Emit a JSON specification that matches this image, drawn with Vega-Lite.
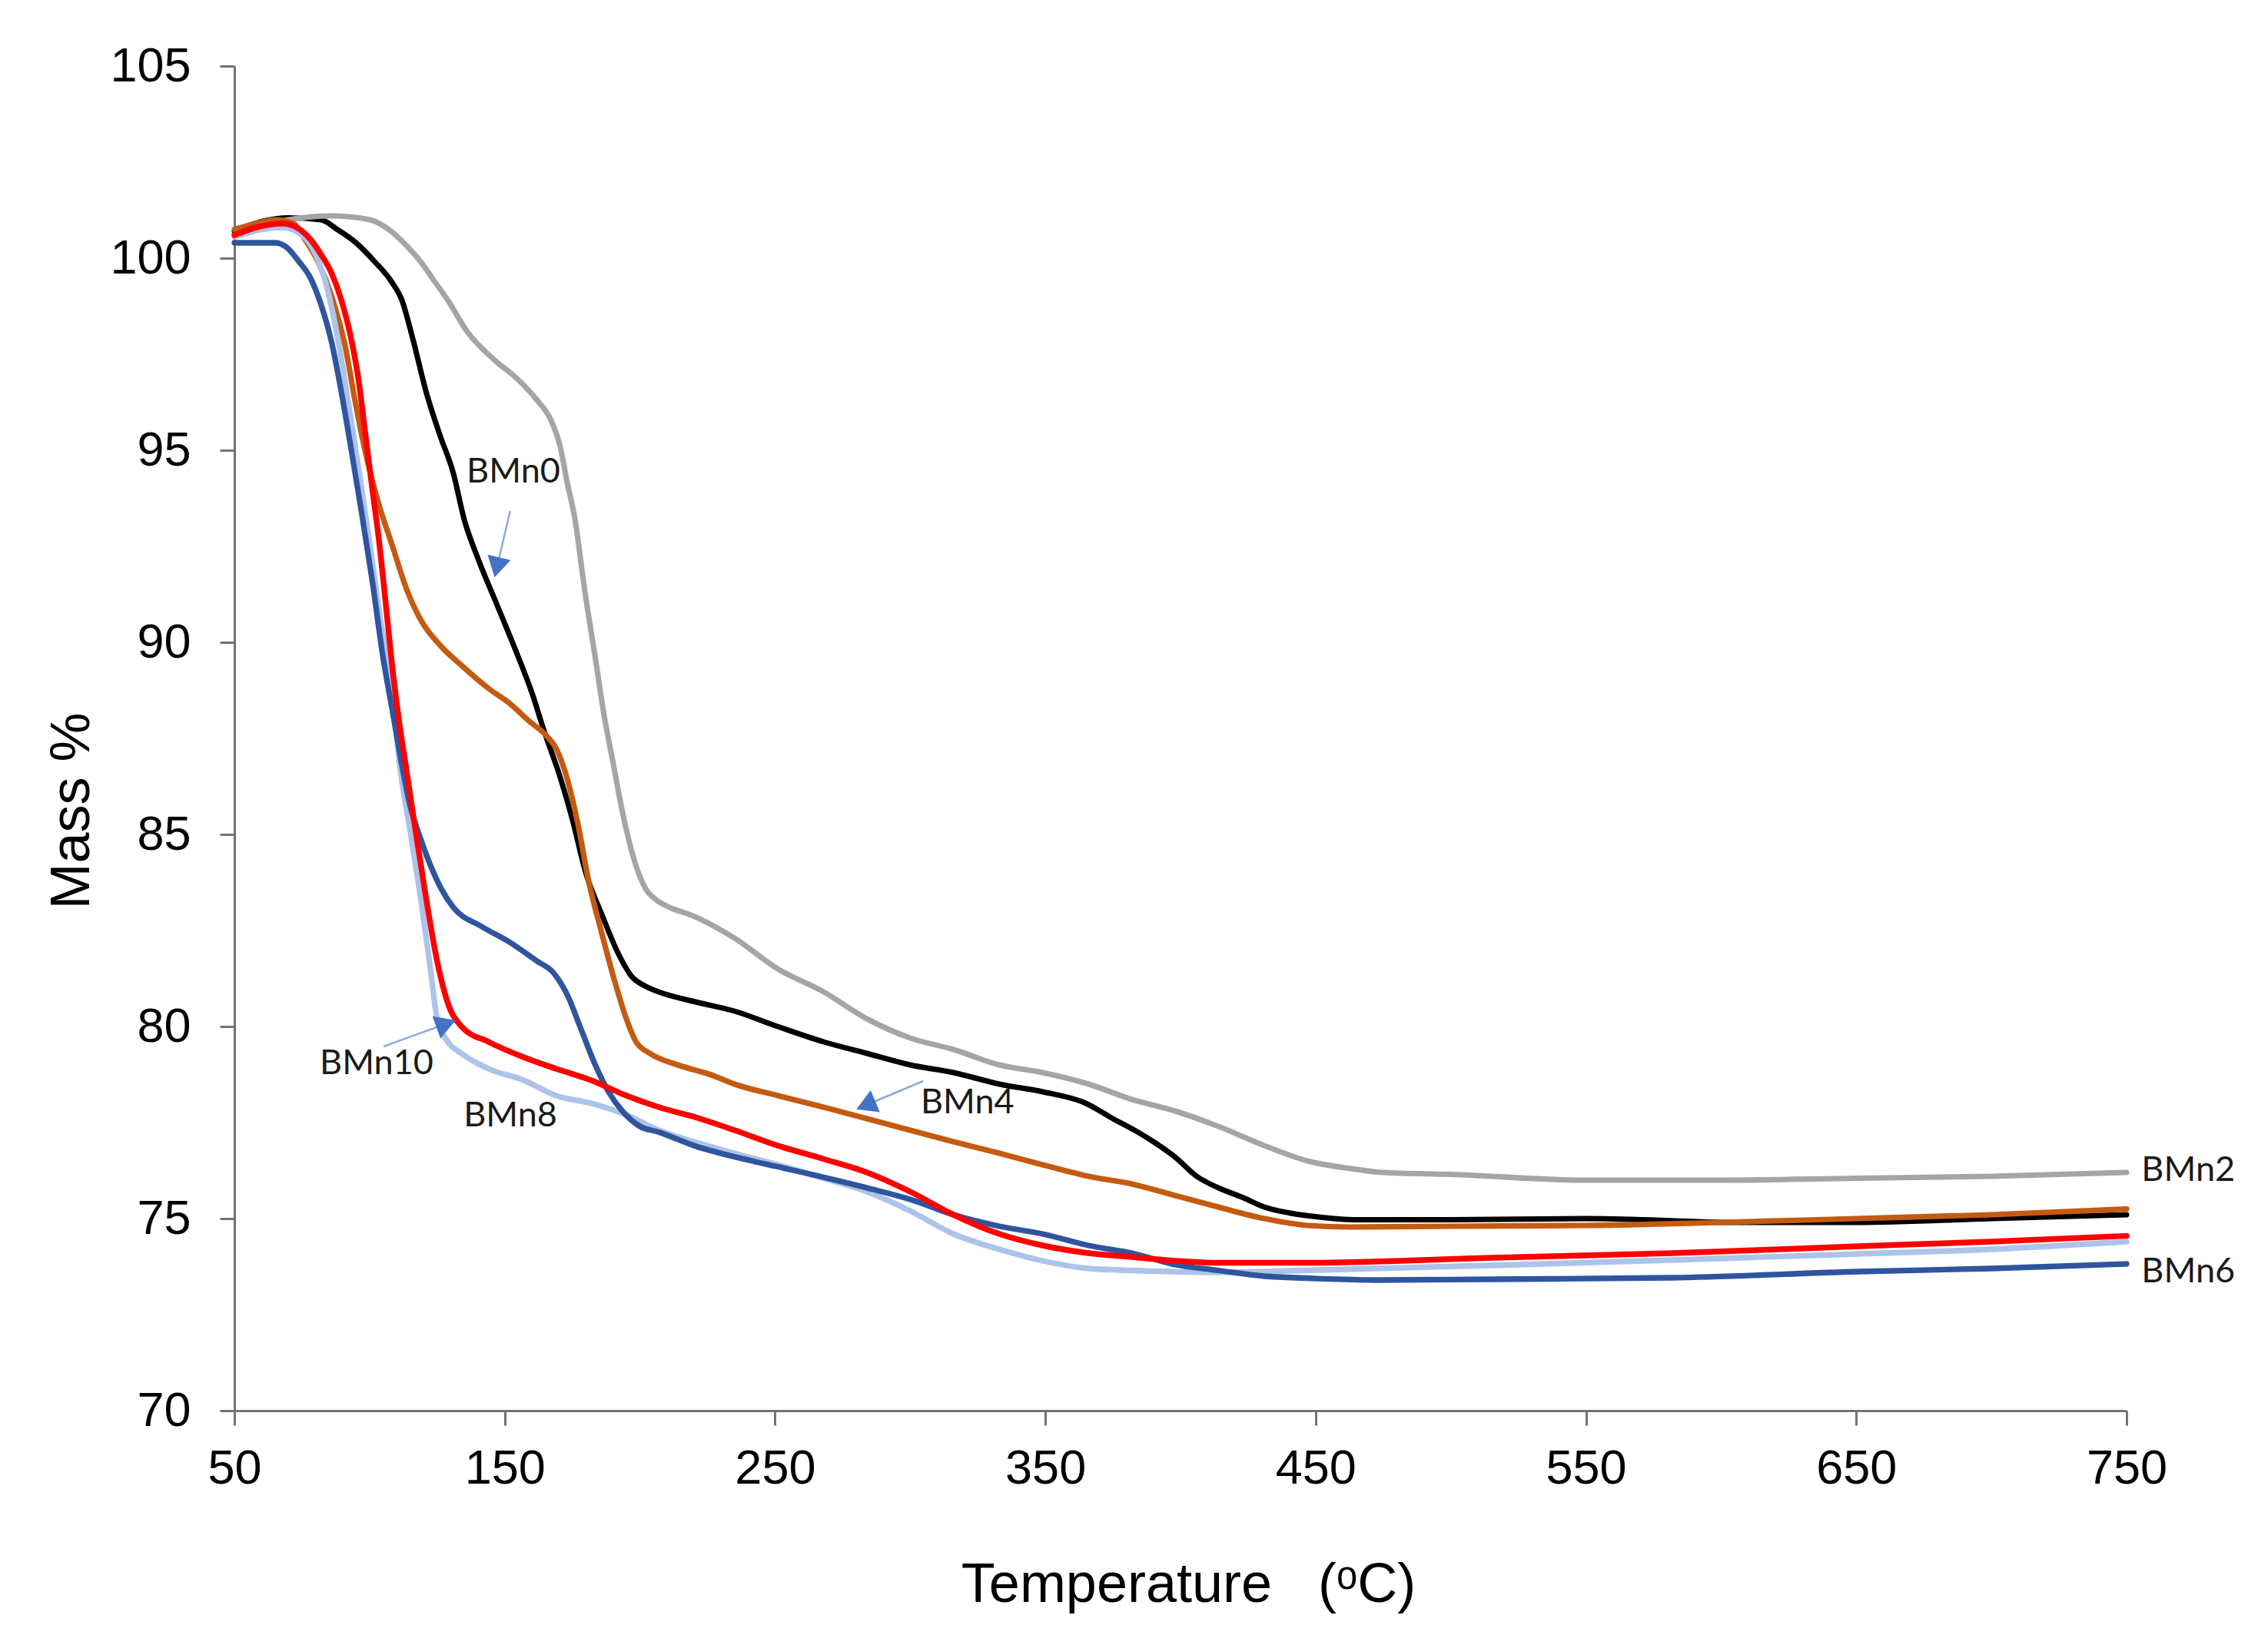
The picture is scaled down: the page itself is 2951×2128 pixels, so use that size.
{
  "$schema": "https://vega.github.io/schema/vega-lite/v6.json",
  "description": "TGA mass loss curves BMn0-BMn10",
  "autosize": {"type": "none"},
  "width": 2462,
  "height": 1750,
  "padding": {"left": 305, "top": 86, "right": 184, "bottom": 292},
  "background": "white",
  "config": {
    "view": {"stroke": null},
    "font": "Liberation Sans",
    "axis": {
      "grid": false,
      "domainColor": "#737373",
      "domainWidth": 3,
      "tickColor": "#737373",
      "tickWidth": 3,
      "tickSize": 19,
      "labelFont": "Liberation Sans",
      "labelFontSize": 63,
      "labelColor": "#000000",
      "titleFont": "Liberation Sans",
      "titleFontSize": 72,
      "titleFontWeight": "normal",
      "titleColor": "#000000"
    }
  },
  "datasets": {
    "curves": [
      {"s": "BMn0", "t": 50, "m": 100.7}, {"s": "BMn0", "t": 60, "m": 100.95}, {"s": "BMn0", "t": 70, "m": 101.05},
      {"s": "BMn0", "t": 82, "m": 101.0}, {"s": "BMn0", "t": 88, "m": 100.75}, {"s": "BMn0", "t": 95, "m": 100.4},
      {"s": "BMn0", "t": 102, "m": 99.9}, {"s": "BMn0", "t": 108, "m": 99.4}, {"s": "BMn0", "t": 112, "m": 98.9},
      {"s": "BMn0", "t": 116, "m": 97.9}, {"s": "BMn0", "t": 121, "m": 96.5}, {"s": "BMn0", "t": 126, "m": 95.4},
      {"s": "BMn0", "t": 131, "m": 94.4}, {"s": "BMn0", "t": 135, "m": 93.2}, {"s": "BMn0", "t": 140, "m": 92.2},
      {"s": "BMn0", "t": 147, "m": 91.0}, {"s": "BMn0", "t": 154, "m": 89.8}, {"s": "BMn0", "t": 160, "m": 88.7},
      {"s": "BMn0", "t": 165, "m": 87.6}, {"s": "BMn0", "t": 170, "m": 86.6}, {"s": "BMn0", "t": 175, "m": 85.4},
      {"s": "BMn0", "t": 180, "m": 84.0}, {"s": "BMn0", "t": 186, "m": 82.9}, {"s": "BMn0", "t": 192, "m": 81.9},
      {"s": "BMn0", "t": 197, "m": 81.3}, {"s": "BMn0", "t": 202, "m": 81.05}, {"s": "BMn0", "t": 207, "m": 80.9},
      {"s": "BMn0", "t": 220, "m": 80.65}, {"s": "BMn0", "t": 235, "m": 80.4}, {"s": "BMn0", "t": 251, "m": 80.0},
      {"s": "BMn0", "t": 268, "m": 79.6}, {"s": "BMn0", "t": 284, "m": 79.3}, {"s": "BMn0", "t": 300, "m": 79.0},
      {"s": "BMn0", "t": 316, "m": 78.8}, {"s": "BMn0", "t": 333, "m": 78.5}, {"s": "BMn0", "t": 349, "m": 78.3},
      {"s": "BMn0", "t": 365, "m": 78.0}, {"s": "BMn0", "t": 375, "m": 77.6}, {"s": "BMn0", "t": 383, "m": 77.3},
      {"s": "BMn0", "t": 390, "m": 77.0}, {"s": "BMn0", "t": 398, "m": 76.6}, {"s": "BMn0", "t": 406, "m": 76.1},
      {"s": "BMn0", "t": 414, "m": 75.8}, {"s": "BMn0", "t": 423, "m": 75.55}, {"s": "BMn0", "t": 431, "m": 75.3},
      {"s": "BMn0", "t": 440, "m": 75.15}, {"s": "BMn0", "t": 450, "m": 75.05}, {"s": "BMn0", "t": 465, "m": 74.97},
      {"s": "BMn0", "t": 500, "m": 74.97}, {"s": "BMn0", "t": 550, "m": 75.0}, {"s": "BMn0", "t": 580, "m": 74.95},
      {"s": "BMn0", "t": 600, "m": 74.9}, {"s": "BMn0", "t": 650, "m": 74.9}, {"s": "BMn0", "t": 700, "m": 75.0},
      {"s": "BMn0", "t": 750, "m": 75.1},

      {"s": "BMn2", "t": 50, "m": 100.6}, {"s": "BMn2", "t": 60, "m": 100.85}, {"s": "BMn2", "t": 70, "m": 101.0},
      {"s": "BMn2", "t": 86, "m": 101.1}, {"s": "BMn2", "t": 100, "m": 101.0}, {"s": "BMn2", "t": 108, "m": 100.7},
      {"s": "BMn2", "t": 114, "m": 100.3}, {"s": "BMn2", "t": 119, "m": 99.9}, {"s": "BMn2", "t": 124, "m": 99.4},
      {"s": "BMn2", "t": 129, "m": 98.9}, {"s": "BMn2", "t": 136, "m": 98.1}, {"s": "BMn2", "t": 147, "m": 97.3},
      {"s": "BMn2", "t": 154, "m": 96.9}, {"s": "BMn2", "t": 162, "m": 96.3}, {"s": "BMn2", "t": 167, "m": 95.8},
      {"s": "BMn2", "t": 170.5, "m": 95.1}, {"s": "BMn2", "t": 173, "m": 94.2}, {"s": "BMn2", "t": 176, "m": 93.2},
      {"s": "BMn2", "t": 179.5, "m": 91.4}, {"s": "BMn2", "t": 183.5, "m": 89.6}, {"s": "BMn2", "t": 187, "m": 88.0},
      {"s": "BMn2", "t": 190, "m": 86.9}, {"s": "BMn2", "t": 193.5, "m": 85.6}, {"s": "BMn2", "t": 198.5, "m": 84.2},
      {"s": "BMn2", "t": 202, "m": 83.6}, {"s": "BMn2", "t": 206, "m": 83.3}, {"s": "BMn2", "t": 211, "m": 83.1},
      {"s": "BMn2", "t": 219, "m": 82.9}, {"s": "BMn2", "t": 235, "m": 82.3}, {"s": "BMn2", "t": 251, "m": 81.5},
      {"s": "BMn2", "t": 268, "m": 80.9}, {"s": "BMn2", "t": 284, "m": 80.2}, {"s": "BMn2", "t": 300, "m": 79.7},
      {"s": "BMn2", "t": 316, "m": 79.4}, {"s": "BMn2", "t": 333, "m": 79.0}, {"s": "BMn2", "t": 349, "m": 78.8},
      {"s": "BMn2", "t": 366, "m": 78.5}, {"s": "BMn2", "t": 382, "m": 78.1}, {"s": "BMn2", "t": 398, "m": 77.8},
      {"s": "BMn2", "t": 414, "m": 77.4}, {"s": "BMn2", "t": 431, "m": 76.9}, {"s": "BMn2", "t": 447, "m": 76.5},
      {"s": "BMn2", "t": 463, "m": 76.3}, {"s": "BMn2", "t": 475, "m": 76.2}, {"s": "BMn2", "t": 500, "m": 76.15},
      {"s": "BMn2", "t": 550, "m": 76.0}, {"s": "BMn2", "t": 600, "m": 76.0}, {"s": "BMn2", "t": 650, "m": 76.05},
      {"s": "BMn2", "t": 700, "m": 76.1}, {"s": "BMn2", "t": 750, "m": 76.2},

      {"s": "BMn4", "t": 50, "m": 100.75}, {"s": "BMn4", "t": 58, "m": 100.9}, {"s": "BMn4", "t": 65, "m": 101.0},
      {"s": "BMn4", "t": 72, "m": 100.9}, {"s": "BMn4", "t": 76, "m": 100.5}, {"s": "BMn4", "t": 81, "m": 99.9},
      {"s": "BMn4", "t": 86, "m": 99.0}, {"s": "BMn4", "t": 91, "m": 97.7}, {"s": "BMn4", "t": 94.6, "m": 96.3},
      {"s": "BMn4", "t": 98.3, "m": 95.0}, {"s": "BMn4", "t": 103.4, "m": 93.6}, {"s": "BMn4", "t": 108.5, "m": 92.5},
      {"s": "BMn4", "t": 113.6, "m": 91.4}, {"s": "BMn4", "t": 118.8, "m": 90.6}, {"s": "BMn4", "t": 126.4, "m": 89.9},
      {"s": "BMn4", "t": 134, "m": 89.4}, {"s": "BMn4", "t": 144, "m": 88.8}, {"s": "BMn4", "t": 152, "m": 88.4},
      {"s": "BMn4", "t": 159, "m": 87.95}, {"s": "BMn4", "t": 165, "m": 87.6}, {"s": "BMn4", "t": 169.3, "m": 87.2},
      {"s": "BMn4", "t": 173.3, "m": 86.4}, {"s": "BMn4", "t": 177, "m": 85.3}, {"s": "BMn4", "t": 181, "m": 83.8},
      {"s": "BMn4", "t": 186, "m": 82.4}, {"s": "BMn4", "t": 191, "m": 81.1}, {"s": "BMn4", "t": 195, "m": 80.2},
      {"s": "BMn4", "t": 198.6, "m": 79.6}, {"s": "BMn4", "t": 203.7, "m": 79.3}, {"s": "BMn4", "t": 214, "m": 79.0},
      {"s": "BMn4", "t": 226, "m": 78.75}, {"s": "BMn4", "t": 235, "m": 78.5}, {"s": "BMn4", "t": 251, "m": 78.2},
      {"s": "BMn4", "t": 268, "m": 77.9}, {"s": "BMn4", "t": 284, "m": 77.6}, {"s": "BMn4", "t": 300, "m": 77.3},
      {"s": "BMn4", "t": 316, "m": 77.0}, {"s": "BMn4", "t": 333, "m": 76.7}, {"s": "BMn4", "t": 349, "m": 76.4},
      {"s": "BMn4", "t": 366, "m": 76.1}, {"s": "BMn4", "t": 382, "m": 75.9}, {"s": "BMn4", "t": 398, "m": 75.6},
      {"s": "BMn4", "t": 414, "m": 75.3}, {"s": "BMn4", "t": 431, "m": 75.0}, {"s": "BMn4", "t": 447, "m": 74.82},
      {"s": "BMn4", "t": 463, "m": 74.78}, {"s": "BMn4", "t": 500, "m": 74.8}, {"s": "BMn4", "t": 550, "m": 74.82},
      {"s": "BMn4", "t": 600, "m": 74.9}, {"s": "BMn4", "t": 650, "m": 75.0}, {"s": "BMn4", "t": 700, "m": 75.1},
      {"s": "BMn4", "t": 750, "m": 75.25},

      {"s": "BMn8", "t": 50, "m": 100.55}, {"s": "BMn8", "t": 60, "m": 100.75}, {"s": "BMn8", "t": 68, "m": 100.8},
      {"s": "BMn8", "t": 75, "m": 100.6}, {"s": "BMn8", "t": 80, "m": 100.1}, {"s": "BMn8", "t": 84, "m": 99.3},
      {"s": "BMn8", "t": 88, "m": 98.0}, {"s": "BMn8", "t": 92, "m": 96.3}, {"s": "BMn8", "t": 96, "m": 94.5},
      {"s": "BMn8", "t": 100, "m": 92.6}, {"s": "BMn8", "t": 104, "m": 90.6}, {"s": "BMn8", "t": 108.5, "m": 88.7},
      {"s": "BMn8", "t": 111, "m": 86.9}, {"s": "BMn8", "t": 115, "m": 85.1}, {"s": "BMn8", "t": 119, "m": 83.3},
      {"s": "BMn8", "t": 122.5, "m": 81.5}, {"s": "BMn8", "t": 125, "m": 80.2}, {"s": "BMn8", "t": 129, "m": 79.6},
      {"s": "BMn8", "t": 134, "m": 79.3}, {"s": "BMn8", "t": 144, "m": 78.9}, {"s": "BMn8", "t": 157, "m": 78.6},
      {"s": "BMn8", "t": 169, "m": 78.2}, {"s": "BMn8", "t": 182, "m": 78.0}, {"s": "BMn8", "t": 195, "m": 77.7},
      {"s": "BMn8", "t": 207, "m": 77.3}, {"s": "BMn8", "t": 220, "m": 77.0}, {"s": "BMn8", "t": 235, "m": 76.7},
      {"s": "BMn8", "t": 251, "m": 76.4}, {"s": "BMn8", "t": 268, "m": 76.05}, {"s": "BMn8", "t": 284, "m": 75.7},
      {"s": "BMn8", "t": 300, "m": 75.2}, {"s": "BMn8", "t": 316, "m": 74.6}, {"s": "BMn8", "t": 333, "m": 74.2},
      {"s": "BMn8", "t": 349, "m": 73.9}, {"s": "BMn8", "t": 366, "m": 73.7}, {"s": "BMn8", "t": 382, "m": 73.65},
      {"s": "BMn8", "t": 414, "m": 73.6}, {"s": "BMn8", "t": 450, "m": 73.66}, {"s": "BMn8", "t": 515, "m": 73.78},
      {"s": "BMn8", "t": 582, "m": 73.92}, {"s": "BMn8", "t": 651, "m": 74.08}, {"s": "BMn8", "t": 700, "m": 74.2},
      {"s": "BMn8", "t": 750, "m": 74.4},

      {"s": "BMn6", "t": 50, "m": 100.4}, {"s": "BMn6", "t": 65, "m": 100.4}, {"s": "BMn6", "t": 69, "m": 100.3},
      {"s": "BMn6", "t": 74, "m": 99.9}, {"s": "BMn6", "t": 78, "m": 99.5}, {"s": "BMn6", "t": 82, "m": 98.8},
      {"s": "BMn6", "t": 86, "m": 97.8}, {"s": "BMn6", "t": 89.6, "m": 96.5}, {"s": "BMn6", "t": 93.5, "m": 94.9},
      {"s": "BMn6", "t": 97, "m": 93.4}, {"s": "BMn6", "t": 101, "m": 91.6}, {"s": "BMn6", "t": 105, "m": 89.6},
      {"s": "BMn6", "t": 108.5, "m": 88.2}, {"s": "BMn6", "t": 111.7, "m": 86.9}, {"s": "BMn6", "t": 114.8, "m": 85.8},
      {"s": "BMn6", "t": 118.8, "m": 84.9}, {"s": "BMn6", "t": 122.5, "m": 84.2}, {"s": "BMn6", "t": 126.4, "m": 83.6},
      {"s": "BMn6", "t": 131, "m": 83.1}, {"s": "BMn6", "t": 141.5, "m": 82.6}, {"s": "BMn6", "t": 151.7, "m": 82.2},
      {"s": "BMn6", "t": 162, "m": 81.7}, {"s": "BMn6", "t": 168, "m": 81.4}, {"s": "BMn6", "t": 173.3, "m": 80.8},
      {"s": "BMn6", "t": 178.4, "m": 79.9}, {"s": "BMn6", "t": 183.5, "m": 79.0}, {"s": "BMn6", "t": 188.4, "m": 78.3},
      {"s": "BMn6", "t": 193.5, "m": 77.8}, {"s": "BMn6", "t": 200, "m": 77.4}, {"s": "BMn6", "t": 207, "m": 77.25},
      {"s": "BMn6", "t": 220, "m": 76.9}, {"s": "BMn6", "t": 241.5, "m": 76.5}, {"s": "BMn6", "t": 251, "m": 76.35},
      {"s": "BMn6", "t": 284, "m": 75.8}, {"s": "BMn6", "t": 300, "m": 75.5}, {"s": "BMn6", "t": 316, "m": 75.1},
      {"s": "BMn6", "t": 333, "m": 74.8}, {"s": "BMn6", "t": 349, "m": 74.6}, {"s": "BMn6", "t": 366, "m": 74.3},
      {"s": "BMn6", "t": 382, "m": 74.1}, {"s": "BMn6", "t": 398, "m": 73.8}, {"s": "BMn6", "t": 414, "m": 73.65},
      {"s": "BMn6", "t": 431, "m": 73.5}, {"s": "BMn6", "t": 447, "m": 73.45}, {"s": "BMn6", "t": 474, "m": 73.4},
      {"s": "BMn6", "t": 515, "m": 73.42}, {"s": "BMn6", "t": 582, "m": 73.46}, {"s": "BMn6", "t": 651, "m": 73.62},
      {"s": "BMn6", "t": 700, "m": 73.7}, {"s": "BMn6", "t": 750, "m": 73.82},

      {"s": "BMn10", "t": 50, "m": 100.6}, {"s": "BMn10", "t": 58, "m": 100.8}, {"s": "BMn10", "t": 68, "m": 100.9},
      {"s": "BMn10", "t": 73, "m": 100.8}, {"s": "BMn10", "t": 78, "m": 100.5}, {"s": "BMn10", "t": 82, "m": 100.1},
      {"s": "BMn10", "t": 86, "m": 99.6}, {"s": "BMn10", "t": 89.6, "m": 98.9}, {"s": "BMn10", "t": 93.5, "m": 97.8},
      {"s": "BMn10", "t": 96, "m": 96.8}, {"s": "BMn10", "t": 98.3, "m": 95.5}, {"s": "BMn10", "t": 101, "m": 94.0},
      {"s": "BMn10", "t": 103.4, "m": 92.7}, {"s": "BMn10", "t": 106, "m": 91.0}, {"s": "BMn10", "t": 108.5, "m": 89.3},
      {"s": "BMn10", "t": 111, "m": 87.9}, {"s": "BMn10", "t": 113.6, "m": 86.7}, {"s": "BMn10", "t": 117, "m": 85.1},
      {"s": "BMn10", "t": 121, "m": 83.3}, {"s": "BMn10", "t": 125, "m": 81.7}, {"s": "BMn10", "t": 129, "m": 80.6},
      {"s": "BMn10", "t": 134, "m": 80.0}, {"s": "BMn10", "t": 144, "m": 79.6}, {"s": "BMn10", "t": 157, "m": 79.2},
      {"s": "BMn10", "t": 169, "m": 78.9}, {"s": "BMn10", "t": 182, "m": 78.6}, {"s": "BMn10", "t": 195, "m": 78.2},
      {"s": "BMn10", "t": 207, "m": 77.9}, {"s": "BMn10", "t": 220, "m": 77.65}, {"s": "BMn10", "t": 235, "m": 77.3},
      {"s": "BMn10", "t": 251, "m": 76.9}, {"s": "BMn10", "t": 268, "m": 76.55}, {"s": "BMn10", "t": 284, "m": 76.2},
      {"s": "BMn10", "t": 300, "m": 75.7}, {"s": "BMn10", "t": 316, "m": 75.1}, {"s": "BMn10", "t": 333, "m": 74.6},
      {"s": "BMn10", "t": 349, "m": 74.3}, {"s": "BMn10", "t": 366, "m": 74.1}, {"s": "BMn10", "t": 382, "m": 74.0},
      {"s": "BMn10", "t": 398, "m": 73.9}, {"s": "BMn10", "t": 414, "m": 73.85}, {"s": "BMn10", "t": 447, "m": 73.85},
      {"s": "BMn10", "t": 515, "m": 73.98}, {"s": "BMn10", "t": 582, "m": 74.1}, {"s": "BMn10", "t": 651, "m": 74.28},
      {"s": "BMn10", "t": 700, "m": 74.4}, {"s": "BMn10", "t": 750, "m": 74.55}
    ],
    "labels": [
      {"label": "BMn0", "t": 153.2, "m": 94.44, "pos": "inside"},
      {"label": "BMn10", "t": 102.6, "m": 79.04, "pos": "inside"},
      {"label": "BMn8", "t": 152.1, "m": 77.68, "pos": "inside"},
      {"label": "BMn4", "t": 321.2, "m": 78.02, "pos": "inside"},
      {"label": "BMn2", "t": 755.5, "m": 76.26, "pos": "end"},
      {"label": "BMn6", "t": 755.5, "m": 73.62, "pos": "end"}
    ],
    "arrows": [
      {"name": "BMn0", "t": 152.0, "m": 93.42, "t2": 147.1, "m2": 91.95, "angle": 193},
      {"name": "BMn10", "t": 105.2, "m": 79.48, "t2": 128.3, "m2": 80.07, "angle": 70},
      {"name": "BMn4", "t": 304.8, "m": 78.58, "t2": 283.6, "m2": 77.95, "angle": 247}
    ]
  },
  "layer": [
    {
      "data": {"name": "curves"},
      "mark": {"type": "line", "interpolate": "monotone", "strokeCap": "round", "strokeJoin": "round"},
      "encoding": {
        "x": {
          "field": "t",
          "type": "quantitative",
          "scale": {"domain": [50, 750], "nice": false, "zero": false},
          "axis": {
            "values": [50, 150, 250, 350, 450, 550, 650, 750],
            "labelPadding": 25,
            "labelFlush": false,
            "title": "Temperature\u00a0\u00a0\u00a0(ᵒC)",
            "titleX": 1241,
            "titleY": 248,
            "titleAlign": "center",
            "titleBaseline": "alphabetic"
          }
        },
        "y": {
          "field": "m",
          "type": "quantitative",
          "scale": {"domain": [70, 105], "nice": false, "zero": false},
          "axis": {
            "values": [70, 75, 80, 85, 90, 95, 100, 105],
            "labelPadding": 38,
            "labelFlush": false,
            "title": "Mass %",
            "titleAngle": -90,
            "titleX": -190,
            "titleY": 969,
            "titleAlign": "center",
            "titleBaseline": "alphabetic"
          }
        },
        "color": {
          "field": "s",
          "type": "nominal",
          "scale": {
            "domain": ["BMn0", "BMn2", "BMn4", "BMn6", "BMn8", "BMn10"],
            "range": ["#000000", "#a5a5a5", "#c55a11", "#2f559f", "#adc3ea", "#ff0000"]
          },
          "legend": null
        },
        "strokeWidth": {
          "field": "s",
          "type": "ordinal",
          "scale": {
            "domain": ["BMn0", "BMn2", "BMn4", "BMn6", "BMn8", "BMn10"],
            "range": [7, 7.5, 7, 5, 7, 8.5]
          },
          "legend": null
        }
      }
    },
    {
      "data": {"name": "arrows"},
      "mark": {"type": "rule", "color": "#8faadc", "strokeWidth": 2.5},
      "encoding": {
        "x": {"field": "t", "type": "quantitative"},
        "y": {"field": "m", "type": "quantitative"},
        "x2": {"field": "t2"},
        "y2": {"field": "m2"}
      }
    },
    {
      "data": {"name": "arrows"},
      "mark": {"type": "point", "shape": "triangle-up", "filled": true, "color": "#4472c4", "opacity": 1, "size": 950, "strokeWidth": 0},
      "encoding": {
        "x": {"field": "t2", "type": "quantitative"},
        "y": {"field": "m2", "type": "quantitative"},
        "angle": {"field": "angle", "type": "quantitative", "scale": null}
      }
    },
    {
      "data": {"name": "labels"},
      "transform": [{"filter": "datum.pos === 'inside'"}],
      "mark": {"type": "text", "font": "Lato", "fontSize": 45, "color": "#1a1a1a", "align": "center", "baseline": "middle"},
      "encoding": {
        "x": {"field": "t", "type": "quantitative"},
        "y": {"field": "m", "type": "quantitative"},
        "text": {"field": "label"}
      }
    },
    {
      "data": {"name": "labels"},
      "transform": [{"filter": "datum.pos === 'end'"}],
      "mark": {"type": "text", "font": "Lato", "fontSize": 45, "color": "#1a1a1a", "align": "left", "baseline": "middle", "clip": false},
      "encoding": {
        "x": {"field": "t", "type": "quantitative"},
        "y": {"field": "m", "type": "quantitative"},
        "text": {"field": "label"}
      }
    }
  ]
}
